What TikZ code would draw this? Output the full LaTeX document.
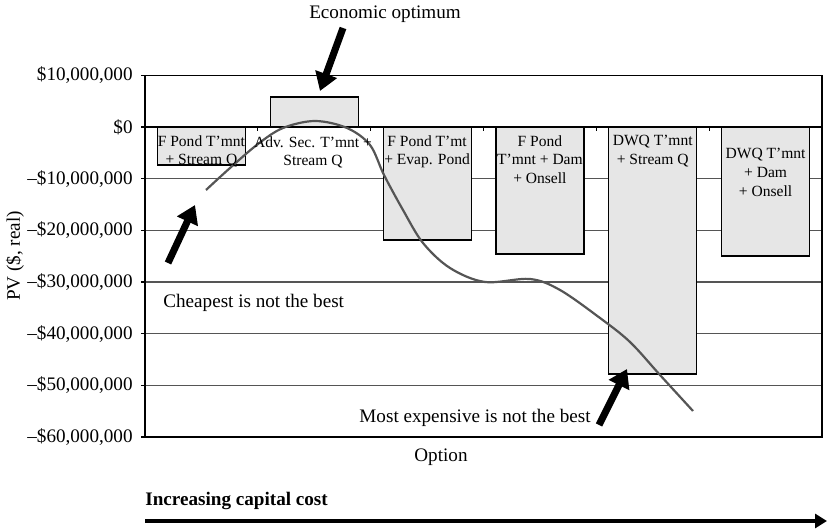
\documentclass[tikz,border=0pt]{standalone}
\usepackage{fontspec}
\setmainfont{Liberation Serif}
\usetikzlibrary{arrows.meta}
\definecolor{barfill}{HTML}{E6E6E6}
\definecolor{gridgray}{HTML}{555555}
\definecolor{curvegray}{HTML}{555555}
\begin{document}
\begin{tikzpicture}[x=0.5bp,y=-0.5bp,
  bar/.style={draw=black, fill=barfill, line width=0.6bp},
  gridline/.style={draw=gridgray, line width=0.6bp},
  frame/.style={draw=black, line width=0.6bp},
  lbl/.style={font=\fontsize{9.6}{11}\selectfont, inner sep=0},
  barlbl/.style={font=\fontsize{7.8}{9.4}\selectfont, align=center, inner sep=0, anchor=north},
  pointer/.style={line width=3.5bp, -{Triangle[width=11bp,length=9bp]}},
  costarrow/.style={line width=2.4bp, -{Triangle[width=7bp,length=6bp]}},
  trend/.style={draw=curvegray, line width=1.1bp}
]
\useasboundingbox (0,0) rectangle (827,531);

% value axis: 10 M$ per 51.67 px, zero at y = 127
\foreach \v/\t [count=\i] in {10/{\$10,000,000}, 0/{\$0}, -10/{--\$10,000,000},
    -20/{--\$20,000,000}, -30/{--\$30,000,000}, -40/{--\$40,000,000},
    -50/{--\$50,000,000}, -60/{--\$60,000,000}}{
  \draw[gridline] (145,{127-5.1667*\v}) -- (822,{127-5.1667*\v});
  \draw[frame] (141,{127-5.1667*\v}) -- (145,{127-5.1667*\v});
  \node[lbl, anchor=east] (ylab\i) at (133,{127-5.1667*\v}) {\t};
}

% bars
\draw[bar] (157.4,127) rectangle (245.4,165);
\draw[bar] (270.2,97) rectangle (358.2,127);
\draw[bar] (383.1,127) rectangle (471.1,240);
\draw[bar] (495.9,127) rectangle (583.9,254);
\draw[bar] (608.7,127) rectangle (696.7,374);
\draw[bar] (721.6,127) rectangle (809.6,256);

% frame, zero line and category ticks
\draw[frame] (145,75.3) rectangle (822,437);
\draw[frame] (145,127) -- (822,127);
\foreach \x in {257.8,370.7,483.5,596.3,709.2}{
  \draw[frame] (\x,127) -- (\x,131);
}

% trend curve
\draw[trend] plot[smooth, tension=0.55] coordinates {
  (206,190) (230,168) (258,144) (283,128) (315,121) (347,128) (370,145)
  (384,175) (403,210) (423,243) (450,268) (485,282) (530,279) (560,290)
  (600,318) (630,342) (660,375) (693,411)};

% bar labels
\node[barlbl] (opt1) at (201.4,135) {F Pond T'mnt\\+ Stream Q};
\node[barlbl] (opt2) at (313,136) {Adv. Sec. T'mnt +\\Stream Q};
\node[barlbl] (opt3) at (427.1,135) {F Pond T'mt\\+ Evap. Pond};
\node[barlbl] (opt4) at (539.9,135) {F Pond\\T'mnt + Dam\\+ Onsell};
\node[barlbl] (opt5) at (652.7,135) {DWQ T'mnt\\+ Stream Q};
\node[barlbl] (opt6) at (765.6,148) {DWQ T'mnt\\+ Dam\\+ Onsell};

% axis titles
\node[lbl, rotate=90] (ytitle) at (15,256) {PV (\$, real)};
\node[lbl] (xtitle) at (441,457) {Option};

% annotations
\node[lbl] (econ) at (385,14) {Economic optimum};
\node[lbl, anchor=west] (cheap) at (163,303) {Cheapest is not the best};
\node[lbl, anchor=east] (dear) at (591,418) {Most expensive is not the best};
\node[lbl, anchor=west, font=\fontsize{9.6}{11}\selectfont\bfseries] (capcost) at (145,501) {Increasing capital cost};

\coordinate (econTail) at (343,28);
\coordinate (econTip) at (320,91);
\coordinate (cheapTail) at (168,263);
\coordinate (cheapTip) at (195,205);
\coordinate (dearTail) at (599,425);
\coordinate (dearTip) at (627,369);
\coordinate (costStart) at (145,521);
\coordinate (costEnd) at (827,521);

\draw[pointer] (econTail) -- (econTip);
\draw[pointer] (cheapTail) -- (cheapTip);
\draw[pointer] (dearTail) -- (dearTip);
\draw[costarrow] (costStart) -- (costEnd);
\end{tikzpicture}
\end{document}
